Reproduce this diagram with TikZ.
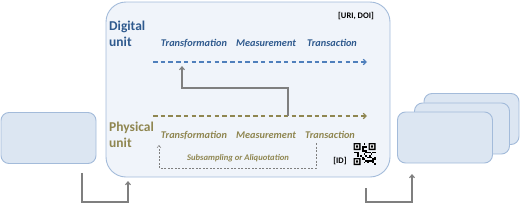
\documentclass[tikz,border=0pt]{standalone}
\usepackage{fontspec}
\setmainfont{Carlito}
\usetikzlibrary{positioning,arrows.meta,calc}
\definecolor{frameblue}{HTML}{A3BBDA}
\definecolor{framefill}{HTML}{F0F4FA}
\definecolor{boxfill}{HTML}{DCE6F2}
\definecolor{digiblue}{HTML}{2F5A8E}
\definecolor{digidash}{HTML}{4F7FBC}
\definecolor{physolive}{HTML}{8F8650}
\definecolor{linkgrey}{HTML}{7F7F7F}
\tikzset{
  ob unit/.style={rounded corners=20pt, draw=frameblue, fill=framefill, line width=0.9pt},
  ob item/.style={rounded corners=8pt, draw=frameblue, fill=boxfill, line width=0.9pt,
                  minimum width=95pt, minimum height=51pt},
  ob name/.style={font=\fontsize{13.5}{16}\selectfont\bfseries, align=left, anchor=west, inner sep=0pt},
  ob step/.style={font=\fontsize{10.3}{12}\selectfont\bfseries\itshape, inner sep=0pt},
  ob tag/.style={font=\fontsize{8.5}{10}\selectfont\bfseries, inner sep=0pt},
  ob flow/.style={dashed, dash pattern=on 4.5pt off 3.2pt, line width=1.1pt, -{Straight Barb[length=3pt, width=5.5pt]}},
  ob link/.style={linkgrey, line width=1.1pt, -{Straight Barb[length=3pt, width=5pt]}},
  ob loop/.style={linkgrey, dashed, dash pattern=on 2pt off 1.5pt, line width=0.5pt, -{Straight Barb[length=2.5pt, width=4pt]}},
}
\begin{document}
\begin{tikzpicture}[x=1pt, y=-1pt]
  \useasboundingbox (0,0) rectangle (520,204);
  % the object record
  \node[ob unit, minimum width=284pt, minimum height=175pt] (unit) at (248,89.5) {};
  % digital unit
  \node[ob name, text=digiblue] (dname) at (109,34) {Digital\\unit};
  \node[ob tag] (uri) at (356,16) {[URI, DOI]};
  \node[ob step, text=digiblue] (dtrf) at (194,43) {Transformation};
  \node[ob step, text=digiblue] (dmea) at (266,43) {Measurement};
  \node[ob step, text=digiblue] (dtra) at (332,43) {Transaction};
  \coordinate (dstart) at (153,62);
  \coordinate (dend) at (367,62);
  \draw[ob flow, digidash] (dstart) -- (dend);
  % physical unit
  \node[ob name, text=physolive] (pname) at (109,135) {Physical\\unit};
  \node[ob step, text=physolive] (ptrf) at (194,135) {Transformation};
  \node[ob step, text=physolive] (pmea) at (266,135) {Measurement};
  \node[ob step, text=physolive] (ptra) at (330,135) {Transaction};
  \coordinate (pstart) at (153,116);
  \coordinate (pend) at (367,116);
  \draw[ob flow, physolive] (pstart) -- (pend);
  % digitisation link
  \coordinate (dig) at (288,116);
  \coordinate (digto) at (182,66);
  \draw[ob link] (dig) |- (182,88) -- (digto);
  % subsampling loop
  \node[font=\fontsize{8.6}{10}\selectfont\bfseries\itshape, text=physolive, inner sep=0pt] (sub) at (238,158) {Subsampling or Aliquotation};
  \coordinate (subfrom) at (316,143);
  \coordinate (subto) at (159,145);
  \draw[ob loop] (subfrom) -- (316,168) -- (159,168) -- (subto);
  % identifier
  \node[ob tag] (id) at (340,161) {[ID]};
  \begin{scope}[shift={(353.5,143)}]
    \fill[black] (0,0) rectangle (7,7) (15,0) rectangle (22,7) (0,15) rectangle (7,22);
    \fill[white] (1.3,1.3) rectangle (5.7,5.7) (16.3,1.3) rectangle (20.7,5.7) (1.3,16.3) rectangle (5.7,20.7);
    \fill[black] (2.4,2.4) rectangle (4.6,4.6) (17.4,2.4) rectangle (19.6,4.6) (2.4,17.4) rectangle (4.6,19.6);
    \foreach \i in {0,...,12}{
      \foreach \j in {0,...,12}{
        \pgfmathtruncatemacro\qbit{mod(\i*17+\j*31+\i*\j*7+\i*\i*\j*3,11)<5 ? 1 : 0}
        \pgfmathtruncatemacro\qfree{((\i<5 && \j<5) || (\i>7 && \j<5) || (\i<5 && \j>7)) ? 0 : 1}
        \ifnum\qbit\qfree=11 \fill[black] (\i*1.7,\j*1.7) rectangle ++(1.75,1.75); \fi
      }
    }
  \end{scope}
  % source and derived objects
  \node[ob item] (src) at (48.5,138) {};
  \node[ob item] (tgt3) at (471.5,119) {};
  \node[ob item] (tgt2) at (462,128.5) {};
  \node[ob item] (tgt) at (445,137.5) {};
  \coordinate (intake) at (128,181);
  \coordinate (outof) at (366,188);
  \coordinate (outto) at (412,174);
  \draw[ob link] ([xshift=33.5pt, yshift=-9pt]src.south) -- ++(0,29) -| (intake);
  \draw[ob link] (outof) |- (412,202) -- (outto);
\end{tikzpicture}
\end{document}
